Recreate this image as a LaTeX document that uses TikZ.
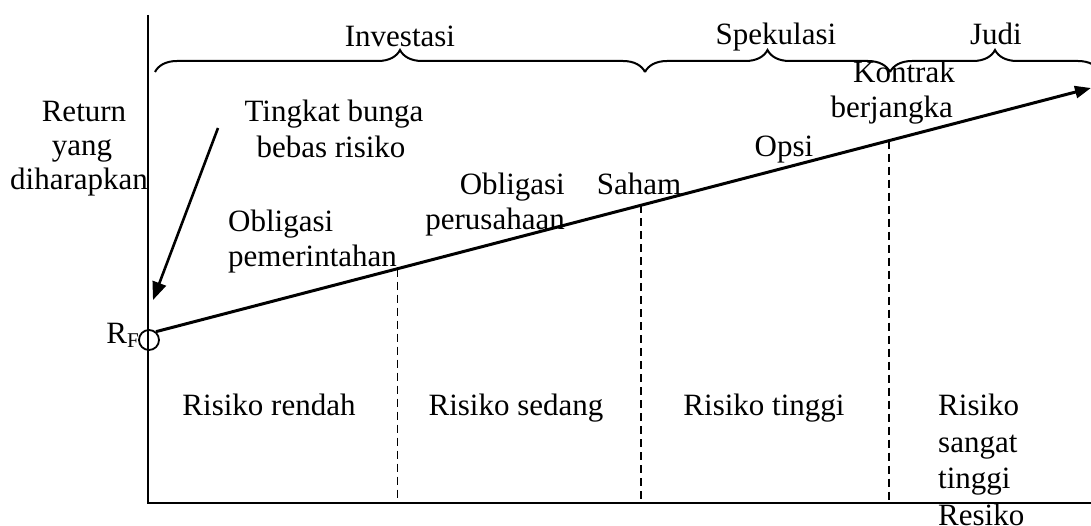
\documentclass[tikz,border=0pt]{standalone}
\usepackage{fontspec}
\setmainfont{Liberation Serif}
\usetikzlibrary{arrows.meta,decorations.pathreplacing,calc}
\begin{document}
\begin{tikzpicture}[x=1pt,y=-1pt,
  txt/.style={inner sep=0pt, font=\fontsize{31}{35}\selectfont},
  axisline/.style={line width=2.2pt},
  brc/.style={line width=2pt, decorate, decoration={brace, amplitude=22pt}},
  dsh/.style={line width=1.6pt, dash pattern=on 8pt off 5pt},
  mainline/.style={line width=3pt, -{Triangle[length=16pt,width=12pt]}},
  ptr/.style={line width=2.6pt, -{Triangle[length=18pt,width=14pt]}},
  ]
\useasboundingbox (0,0) rectangle (1091,526);
\clip (0,0) rectangle (1091,526);
% axes
\coordinate (ytop) at (148,15);
\coordinate (org) at (148,503);
\coordinate (xend) at (1095,503);
\draw[axisline] (ytop) -- (org) -- (xend);
% risk-free point and return line
\node[circle, draw, line width=1.8pt, minimum size=20pt, inner sep=0pt] (rf) at (149,340) {};
\node[txt, anchor=base east] (rflab) at (139,343) {R\raisebox{-0.3ex}{\fontsize{21}{21}\selectfont F}};
\coordinate (tip) at (1091,88);
\draw[mainline] (rf.50) -- (tip);
% dashed separators
\coordinate (p1) at ($(rf.50)!0.2582!(tip)$);
\coordinate (p2) at ($(rf.50)!0.5190!(tip)$);
\coordinate (p3) at ($(rf.50)!0.7841!(tip)$);
\draw[dsh] (p1) -- (p1 |- org);
\draw[dsh] (p2) -- (p2 |- org);
\draw[dsh] (p3) -- (p3 |- org);
% braces
\coordinate (b0) at (155,72);
\coordinate (b1) at (645,72);
\coordinate (b2) at (890,72);
\coordinate (b3) at (1100,72);
\draw[brc] (b0) -- (b1);
\draw[brc] (b1) -- (b2);
\draw[brc] (b2) -- (b3);
\node[txt, anchor=base] (inv) at (400,47) {Investasi};
\node[txt, anchor=base] (spek) at (776,45) {Spekulasi};
\node[txt, anchor=base] (judi) at (996,45) {Judi};
% labels
\node[txt, anchor=base east] (kon1) at (955,83) {Kontrak};
\node[txt, anchor=base east] (kon2) at (953,118) {berjangka};
\node[txt, anchor=base] (ret1) at (84,122) {Return};
\node[txt, anchor=base] (ret2) at (82,156) {yang};
\node[txt, anchor=base] (ret3) at (79,190) {diharapkan};
\node[txt, anchor=base] (tb1) at (334,122) {Tingkat bunga};
\node[txt, anchor=base] (tb2) at (331,158) {bebas risiko};
\node[txt, anchor=base west] (op1) at (228,232) {Obligasi};
\node[txt, anchor=base west] (op2) at (228,267) {pemerintahan};
\node[txt, anchor=base east] (os1) at (565,195) {Obligasi};
\node[txt, anchor=base east] (os2) at (565,230) {perusahaan};
\node[txt, anchor=base] (saham) at (639,195) {Saham};
\node[txt, anchor=base] (opsi) at (784,157) {Opsi};
\node[txt, anchor=base] (r1) at (269,415) {Risiko rendah};
\node[txt, anchor=base] (r2) at (516,415) {Risiko sedang};
\node[txt, anchor=base] (r3) at (764,415) {Risiko tinggi};
\node[txt, anchor=base west] (r4a) at (938,415) {Risiko};
\node[txt, anchor=base west] (r4b) at (938,452) {sangat};
\node[txt, anchor=base west] (r4c) at (938,488) {tinggi};
\node[txt, anchor=base west] (r4d) at (938,525) {Resiko};
% pointer arrow
\coordinate (ptrstart) at (218,128);
\coordinate (ptrend) at (153,300);
\draw[ptr] (ptrstart) -- (ptrend);
\end{tikzpicture}
\end{document}
